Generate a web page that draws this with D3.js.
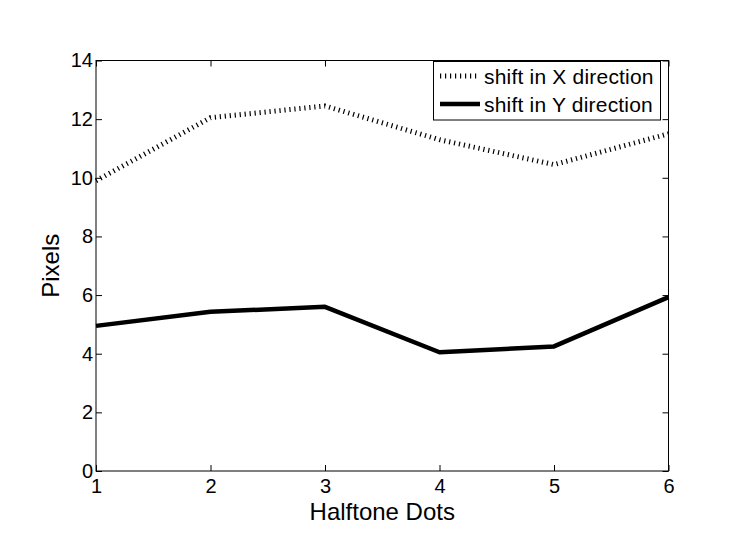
<!DOCTYPE html>
<html>
<head>
<meta charset="utf-8">
<script src="https://cdn.jsdelivr.net/npm/d3@7"></script>
<style>
  body { margin: 0; background: #fff; }
  svg { display: block; font-family: "Liberation Sans", Arial, Helvetica, sans-serif; }
</style>
</head>
<body>
<svg id="chart" width="739" height="554"></svg>
<script>
// halftone dot index
const dots = [1, 2, 3, 4, 5, 6];
// shift values in pixels
const shiftX = [9.9, 12.05, 12.45, 11.3, 10.45, 11.5];
const shiftY = [4.95, 5.43, 5.6, 4.05, 4.25, 5.93];
const xTicks = [1, 2, 3, 4, 5, 6];
const yTicks = [0, 2, 4, 6, 8, 10, 12, 14];
const seriesNames = ["shift in X direction", "shift in Y direction"];

const svg = d3.select("#chart");
// plot box (matlab axes position)
const box = { left: 96, right: 668.5, top: 60.5, bottom: 471 };

const x = d3.scaleLinear().domain([1, 6]).range([box.left, box.right]);
const y = d3.scaleLinear().domain([0, 14]).range([box.bottom, box.top]);

// frame
svg.append("rect")
  .attr("x", box.left).attr("y", box.top)
  .attr("width", box.right - box.left).attr("height", box.bottom - box.top)
  .attr("fill", "none").attr("stroke", "#000").attr("stroke-width", 1);

// axes, ticks pointing inwards like matlab
const tickLen = 6;
function styleAxis(g) {
  g.select(".domain").remove();
  g.selectAll("line").attr("stroke", "#000");
  g.selectAll("text").attr("font-size", 20).attr("fill", "#000");
}
svg.append("g").attr("transform", `translate(0,${box.bottom})`)
  .call(d3.axisBottom(x).tickValues(xTicks).tickFormat(d3.format("d")).tickSizeInner(-tickLen).tickPadding(8))
  .call(styleAxis);
svg.append("g").attr("transform", `translate(0,${box.top})`)
  .call(d3.axisTop(x).tickValues(xTicks).tickFormat("").tickSizeInner(-tickLen))
  .call(styleAxis);
svg.append("g").attr("transform", `translate(${box.left},0)`)
  .call(d3.axisLeft(y).tickValues(yTicks).tickFormat(d3.format("d")).tickSizeInner(-tickLen).tickPadding(3))
  .call(styleAxis);
svg.append("g").attr("transform", `translate(${box.right},0)`)
  .call(d3.axisRight(y).tickValues(yTicks).tickFormat("").tickSizeInner(-tickLen))
  .call(styleAxis);

// lines
const line = d3.line().x((d, i) => x(dots[i])).y(d => y(d));
svg.append("path").datum(shiftX)
  .attr("d", line).attr("fill", "none").attr("stroke", "#000")
  .attr("stroke-width", 5).attr("stroke-dasharray", "1.2 3.8");
svg.append("path").datum(shiftY)
  .attr("d", line).attr("fill", "none").attr("stroke", "#000")
  .attr("stroke-width", 4.5).attr("stroke-linejoin", "round");

// axis labels
svg.append("text").attr("x", (box.left + box.right) / 2).attr("y", 520)
  .attr("text-anchor", "middle").attr("font-size", 24).text("Halftone Dots");
svg.append("text").attr("transform", `translate(59,${(box.top + box.bottom) / 2}) rotate(-90)`)
  .attr("text-anchor", "middle").attr("font-size", 24).text("Pixels");

// legend
const lg = svg.append("g");
lg.append("rect").attr("x", 433.5).attr("y", 61.5).attr("width", 227).attr("height", 58.5)
  .attr("fill", "#fff").attr("stroke", "#000").attr("stroke-width", 1);
const styles = [
  { w: 5, dash: "1.2 3.8" },
  { w: 4.5, dash: null }
];
seriesNames.forEach((name, i) => {
  const ly = 76 + i * 28;
  lg.append("line").attr("x1", 440).attr("x2", 480).attr("y1", ly).attr("y2", ly)
    .attr("stroke", "#000").attr("stroke-width", styles[i].w)
    .attr("stroke-dasharray", styles[i].dash);
  lg.append("text").attr("x", 484).attr("y", ly + 8.3).attr("font-size", 21)
    .attr("letter-spacing", 0.2).text(name);
});
</script>
</body>
</html>
